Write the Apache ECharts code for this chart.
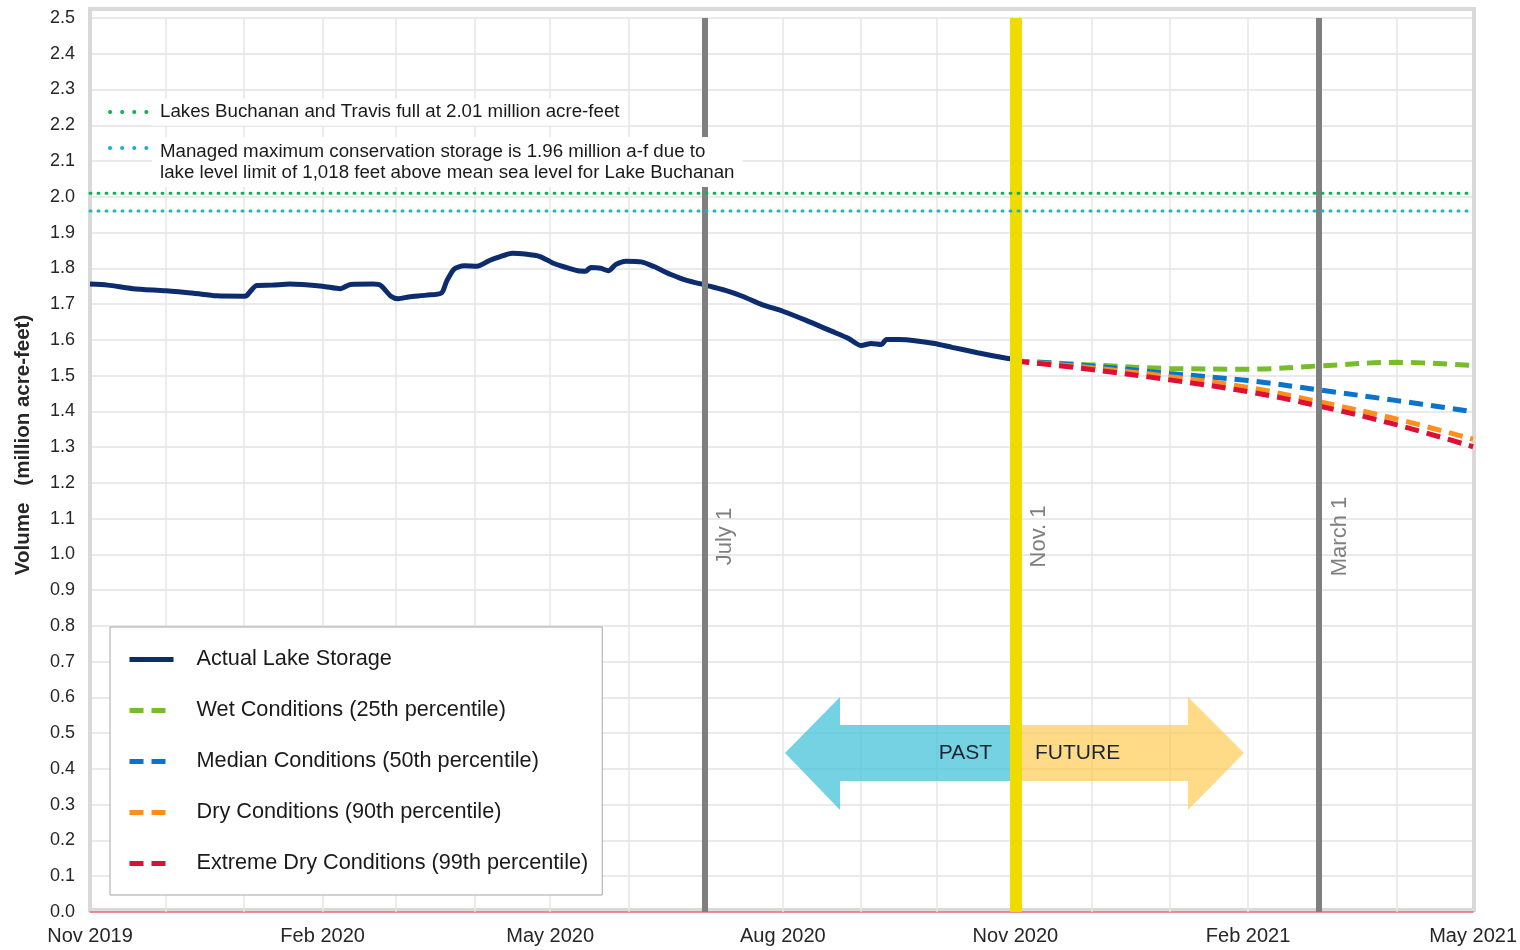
<!DOCTYPE html>
<html>
<head>
<meta charset="utf-8">
<title>Highland Lakes combined storage</title>
<script src="https://cdn.jsdelivr.net/npm/echarts@6/dist/echarts.min.js"></script>
<style>
  html, body { margin: 0; padding: 0; background: #fff; }
  #chart { width: 1520px; height: 950px; }
</style>
</head>
<body>
<div id="chart"></div>
<script>
var FONT = '"Liberation Sans", Arial, sans-serif';

// axis range, month grid lines and labels
var axisStart = '2019-11-01';
var axisEnd = '2021-05-01';
var monthLines = ['2019-12-01', '2020-01-01', '2020-02-01', '2020-03-01', '2020-04-01', '2020-05-01',
  '2020-06-01', '2020-07-01', '2020-08-01', '2020-09-01', '2020-10-01', '2020-11-01',
  '2020-12-01', '2021-01-01', '2021-02-01', '2021-03-01', '2021-04-01'];
var xLabelDates = ['2019-11-01', '2020-02-01', '2020-05-01', '2020-08-01', '2020-11-01', '2021-02-01', '2021-05-01'];
var monthNames = ['Jan', 'Feb', 'Mar', 'Apr', 'May', 'Jun', 'Jul', 'Aug', 'Sep', 'Oct', 'Nov', 'Dec'];

// actual combined storage (million acre-feet)
var storageDates = ['2019-11-01', '2019-11-08', '2019-11-18', '2019-12-01', '2019-12-12', '2019-12-21',
  '2020-01-01', '2020-01-02', '2020-01-06', '2020-01-12', '2020-01-19', '2020-02-01', '2020-02-08',
  '2020-02-12', '2020-02-21', '2020-02-24', '2020-02-28', '2020-03-02', '2020-03-06', '2020-03-13',
  '2020-03-19', '2020-03-21', '2020-03-24', '2020-03-28', '2020-04-02', '2020-04-07', '2020-04-11',
  '2020-04-16', '2020-04-21', '2020-04-27', '2020-05-02', '2020-05-07', '2020-05-12', '2020-05-15',
  '2020-05-17', '2020-05-21', '2020-05-24', '2020-05-27', '2020-05-31', '2020-06-06', '2020-06-11',
  '2020-06-18', '2020-06-24', '2020-07-01', '2020-07-03', '2020-07-09', '2020-07-16', '2020-07-24',
  '2020-08-01', '2020-08-10', '2020-08-20', '2020-08-27', '2020-09-01', '2020-09-05', '2020-09-09',
  '2020-09-11', '2020-09-16', '2020-09-23', '2020-09-30', '2020-10-07', '2020-10-17', '2020-10-28',
  '2020-10-31'];
var storageValues = [1.756, 1.753, 1.743, 1.737, 1.730, 1.723,
  1.722, 1.724, 1.752, 1.753, 1.756, 1.750, 1.743,
  1.755, 1.756, 1.752, 1.722, 1.715, 1.720, 1.725,
  1.731, 1.763, 1.798, 1.807, 1.806, 1.822, 1.832,
  1.842, 1.840, 1.833, 1.815, 1.803, 1.793, 1.792,
  1.802, 1.800, 1.793, 1.811, 1.820, 1.818, 1.805,
  1.782, 1.766, 1.754, 1.750, 1.739, 1.722, 1.698,
  1.680, 1.655, 1.625, 1.604, 1.584, 1.590, 1.587,
  1.601, 1.601, 1.597, 1.590, 1.579, 1.564, 1.549,
  1.546];

// projections
var forecastDates = ['2020-11-01', '2020-12-01', '2021-01-01', '2021-02-01', '2021-03-01', '2021-04-01', '2021-05-01'];
var wetValues = [1.541, 1.530, 1.520, 1.518, 1.527, 1.537, 1.528];
var medianValues = [1.541, 1.527, 1.506, 1.486, 1.460, 1.430, 1.399];
var dryValues = [1.541, 1.522, 1.497, 1.467, 1.427, 1.378, 1.322];
var extremeValues = [1.541, 1.517, 1.488, 1.455, 1.415, 1.362, 1.301];

var fullLevel = 2.01;
var managedMax = 1.96;

var eventDates = ['2020-07-01', '2020-11-01', '2021-03-01'];
var eventLabels = ['July 1', 'Nov. 1', 'March 1'];

function t(s) {
  var p = s.split('-');
  return Date.UTC(+p[0], +p[1] - 1, +p[2]);
}
function pairs(dates, vals) {
  return dates.map(function (d, i) { return [t(d), vals[i]]; });
}

var names = ['Actual Lake Storage', 'Wet Conditions (25th percentile)', 'Median Conditions (50th percentile)',
  'Dry Conditions (90th percentile)', 'Extreme Dry Conditions (99th percentile)'];

var chart = echarts.init(document.getElementById('chart'));

function forecast(name, vals, color) {
  return {
    name: name,
    type: 'line',
    data: pairs(forecastDates, vals),
    symbol: 'none',
    smooth: 0.4,
    z: 4,
    lineStyle: { color: color, width: 5, type: [14, 8] },
    itemStyle: { color: color }
  };
}

function refLine(val, color, extra) {
  var s = {
    type: 'line',
    data: [[t(axisStart), val], [t(axisEnd), val]],
    symbol: 'none',
    silent: true,
    z: 10,
    lineStyle: { color: color, width: 3, type: [1, 7], cap: 'round' }
  };
  for (var k in extra) s[k] = extra[k];
  return s;
}

var option = {
  animation: false,
  backgroundColor: '#fff',
  textStyle: { fontFamily: FONT },
  grid: { left: 90, right: 46, top: 18, bottom: 38 },
  legend: {
    data: names,
    orient: 'vertical',
    left: 110,
    top: 627,
    itemWidth: 44,
    itemHeight: 14,
    itemGap: 26,
    padding: [20, 14, 19, 17],
    backgroundColor: '#fff',
    borderColor: '#a6a6a6',
    borderWidth: 1,
    selectedMode: false,
    itemStyle: { opacity: 0 },
    lineStyle: { width: 5 },
    textStyle: { fontFamily: FONT, fontSize: 21.7, color: '#1a1a1a', lineHeight: 25, padding: [0, 0, 0, 18] }
  },
  xAxis: {
    type: 'value',
    min: t(axisStart),
    max: t(axisEnd),
    axisLine: { show: true, lineStyle: { color: '#ee6a78', width: 1.5 } },
    axisTick: {
      show: true,
      customValues: monthLines.map(t),
      inside: true,
      length: 894,
      lineStyle: { color: '#e6e6e6', width: 1.5 }
    },
    axisLabel: {
      customValues: xLabelDates.map(t),
      fontFamily: FONT,
      fontSize: 20,
      color: '#262626',
      margin: 14,
      formatter: function (v) {
        var d = new Date(v);
        return monthNames[d.getUTCMonth()] + ' ' + d.getUTCFullYear();
      }
    },
    splitLine: { show: false }
  },
  yAxis: {
    type: 'value',
    min: 0,
    max: 2.5,
    interval: 0.1,
    name: 'Volume   (million acre-feet)',
    nameLocation: 'middle',
    nameGap: 56,
    nameTextStyle: {
      fontFamily: FONT, fontSize: 20.5, fontWeight: 'bold', color: '#262626',
      padding: [0, 0, 0, 40]
    },
    axisLine: { show: false },
    axisTick: { show: false },
    axisLabel: {
      fontFamily: FONT, fontSize: 18, color: '#262626', margin: 15,
      formatter: function (v) { return v.toFixed(1); }
    },
    splitLine: { lineStyle: { color: '#e3e3e3', width: 1.5 } }
  },
  series: [
    {
      name: names[0],
      type: 'line',
      data: pairs(storageDates, storageValues),
      symbol: 'none',
      smooth: 0.25,
      z: 3,
      lineStyle: { color: '#0c2c6e', width: 5 },
      itemStyle: { color: '#0c2c6e' }
    },
    forecast(names[1], wetValues, '#77bd2b'),
    forecast(names[2], medianValues, '#0a74cc'),
    forecast(names[3], dryValues, '#ff8f1c'),
    forecast(names[4], extremeValues, '#dc1037'),
    refLine(fullLevel, '#10b050', {}),
    refLine(managedMax, '#1ab2c6', {
      markLine: {
        silent: true,
        symbol: ['none', 'none'],
        label: { show: false },
        data: eventDates.map(function (d, i) {
          return {
            xAxis: t(d),
            lineStyle: i === 1
              ? { color: '#eedc00', width: 12, type: 'solid' }
              : { color: '#7f7f7f', width: 6, type: 'solid' }
          };
        })
      }
    })
  ]
};

chart.setOption(option);

// annotations
var graphics = [];

graphics.push({
  type: 'rect', z: 0, silent: true,
  shape: { x: 90, y: 9, width: 1384, height: 901 },
  style: { fill: 'none', stroke: '#d9d9d9', lineWidth: 4 }
});

// past / future arrows
graphics.push({
  type: 'polygon', z: 1, silent: true,
  shape: { points: [[785, 753], [840, 697], [840, 725], [1014, 725], [1014, 781], [840, 781], [840, 810]] },
  style: { fill: 'rgba(70,195,218,0.75)' }
});
graphics.push({
  type: 'polygon', z: 1, silent: true,
  shape: { points: [[1014, 725], [1188, 725], [1188, 697], [1244, 753], [1188, 810], [1188, 781], [1014, 781]] },
  style: { fill: 'rgba(255,200,70,0.65)' }
});
graphics.push({
  type: 'text', z: 12, silent: true, x: 992, y: 753,
  style: { text: 'PAST', fill: '#1b2433', font: '21px ' + FONT, align: 'right', verticalAlign: 'middle' }
});
graphics.push({
  type: 'text', z: 12, silent: true, x: 1035, y: 753,
  style: { text: 'FUTURE', fill: '#1b2433', font: '21px ' + FONT, align: 'left', verticalAlign: 'middle' }
});

// reference line key, top left
graphics.push({
  type: 'text', z: 100, silent: true, x: 152, y: 112,
  style: {
    text: 'Lakes Buchanan and Travis full at 2.01 million acre-feet',
    fill: '#1a1a1a', font: '18.7px ' + FONT, align: 'left', verticalAlign: 'middle',
    backgroundColor: '#fff', padding: [4, 8, 4, 8]
  }
});
graphics.push({
  type: 'text', z: 100, silent: true, x: 152, y: 137,
  style: {
    text: 'Managed maximum conservation storage is 1.96 million a-f due to\nlake level limit of 1,018 feet above mean sea level for Lake Buchanan',
    fill: '#1a1a1a', font: '18.7px ' + FONT, lineHeight: 21, align: 'left', verticalAlign: 'top',
    backgroundColor: '#fff', padding: [4, 8, 4, 8]
  }
});
graphics.push({
  type: 'line', z: 100, silent: true,
  shape: { x1: 110, y1: 112, x2: 147, y2: 112 },
  style: { stroke: '#10b050', lineWidth: 4, lineDash: [0.1, 12], lineCap: 'round' }
});
graphics.push({
  type: 'line', z: 100, silent: true,
  shape: { x1: 110, y1: 148, x2: 147, y2: 148 },
  style: { stroke: '#1ab2c6', lineWidth: 4, lineDash: [0.1, 12], lineCap: 'round' }
});

// rotated event labels next to the vertical lines
eventDates.forEach(function (d, i) {
  var p = chart.convertToPixel({ xAxisIndex: 0, yAxisIndex: 0 }, [t(d), 1.05]);
  var half = i === 1 ? 6 : 3;
  graphics.push({
    type: 'text', z: 12, silent: true,
    x: p[0] + half + 18, y: p[1], rotation: Math.PI / 2,
    style: { text: eventLabels[i], fill: '#7f7f7f', font: '22px ' + FONT, align: 'center', verticalAlign: 'middle' }
  });
});

chart.setOption({ graphic: graphics });
</script>
</body>
</html>
